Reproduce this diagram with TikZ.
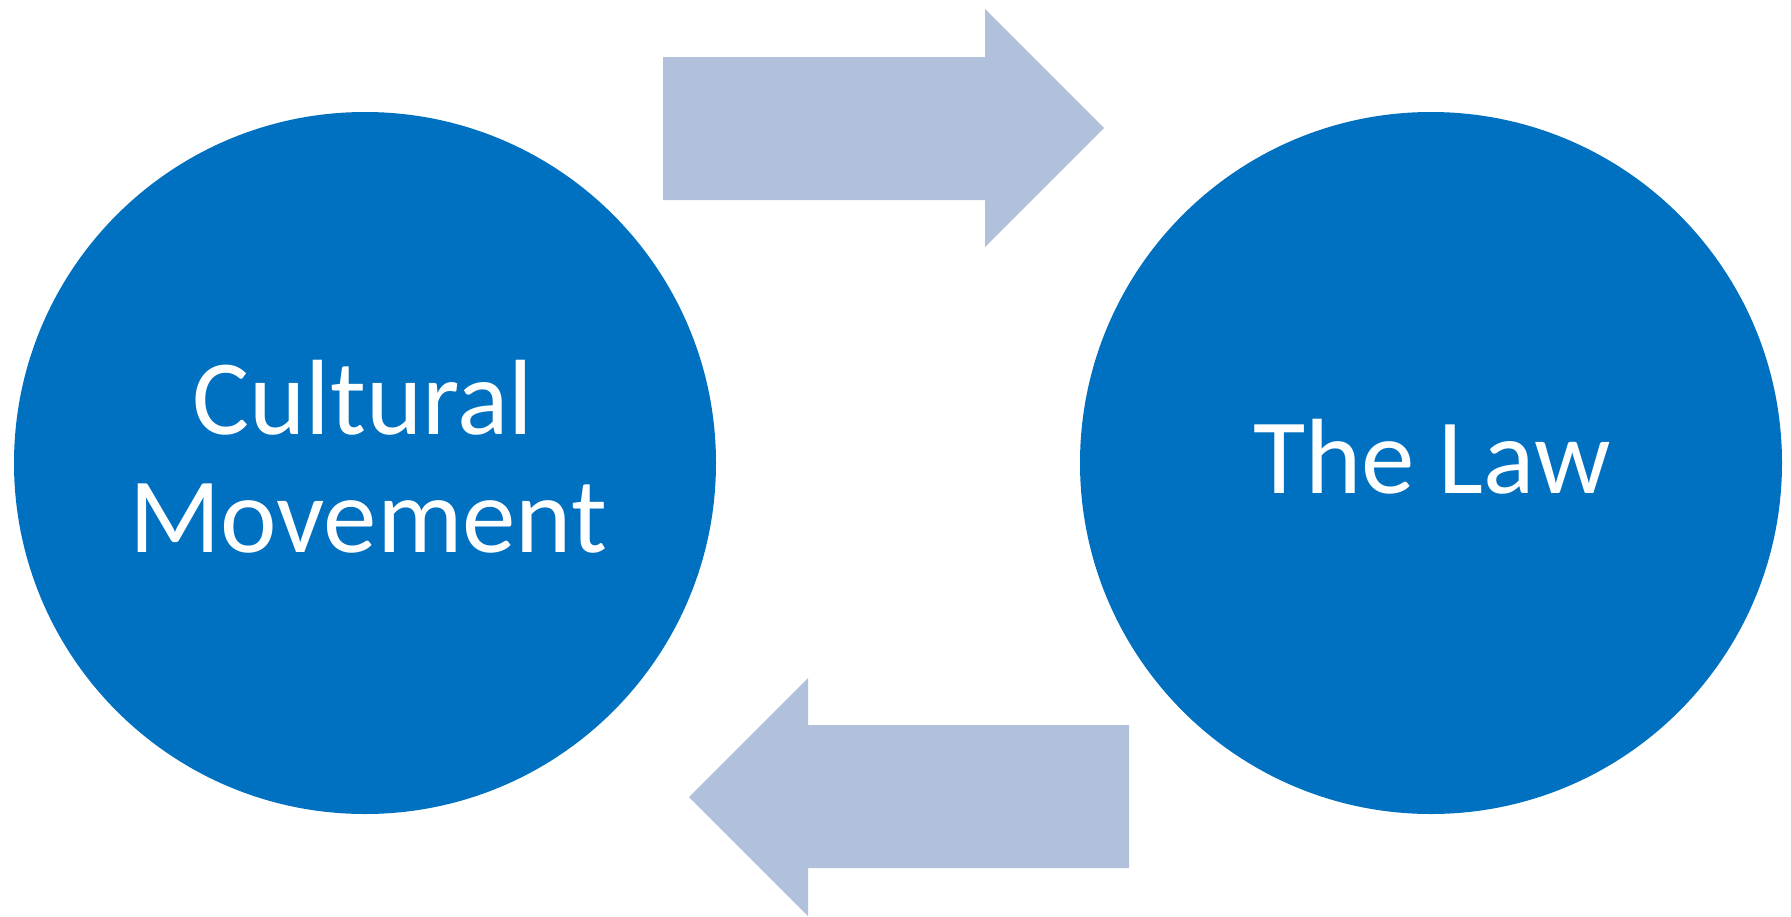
\documentclass[tikz,border=0pt]{standalone}
\usepackage{fontspec}
\setmainfont{Carlito}
\definecolor{circblue}{HTML}{0070C0}
\definecolor{arrowfill}{HTML}{B2C1DB}
\begin{document}
\begin{tikzpicture}[x=1pt,y=-1pt,
  bubble/.style={circle, fill=circblue, minimum size=702pt, inner sep=0pt},
  bubbletext/.style={text=white, font=\fontsize{107}{117}\selectfont, anchor=base, inner sep=0pt},
  blockarrow/.style={fill=arrowfill}]
\useasboundingbox (0,0) rectangle (1791,916);
\node[bubble] (cm) at (365,463) {};
\node[bubble] (law) at (1431,463) {};
\node[bubbletext] (cmtextA) at (363,434) {Cultural};
\node[bubbletext] (cmtextB) at (368,552) {Movement};
\node[bubbletext] (lawtext) at (1432,493) {The Law};
\fill[blockarrow] (663,57) -- (985,57) -- (985,9) -- (1104,128) -- (985,247) -- (985,200) -- (663,200) -- cycle;
\fill[blockarrow] (1129,725) -- (808,725) -- (808,678) -- (689,797) -- (808,916) -- (808,868) -- (1129,868) -- cycle;
\end{tikzpicture}
\end{document}
